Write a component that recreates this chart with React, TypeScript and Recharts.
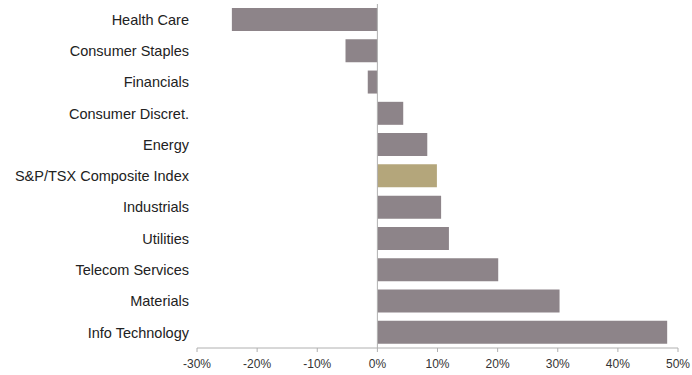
import { BarChart, Bar, XAxis, YAxis, Cell, ReferenceLine } from 'recharts';

const sectors = [
  'Health Care',
  'Consumer Staples',
  'Financials',
  'Consumer Discret.',
  'Energy',
  'S&P/TSX Composite Index',
  'Industrials',
  'Utilities',
  'Telecom Services',
  'Materials',
  'Info Technology',
];

const returns = [-24.2, -5.3, -1.6, 4.3, 8.3, 9.9, 10.6, 11.9, 20.1, 30.3, 48.2];

const xTicks = [-30, -20, -10, 0, 10, 20, 30, 40, 50];

const indexName = 'S&P/TSX Composite Index';

const data = sectors.map((name, i) => ({ name, value: returns[i] }));

const barColor = '#8d8489';
const indexColor = '#b4a67b';
const axisColor = '#b0b0b0';

export default function App() {
  return (
    <div style={{ position: 'absolute', left: 0, top: 0, background: '#fff' }}>
      <BarChart
        width={692}
        height={375}
        data={data}
        layout="vertical"
        margin={{ top: 4, right: 14, bottom: 0, left: 0 }}
      >
        <XAxis
          type="number"
          domain={[-30, 50]}
          ticks={xTicks}
          tickFormatter={(v) => `${v}%`}
          height={27}
          tickSize={4}
          tickMargin={7}
          stroke={axisColor}
          tick={{ fill: '#333', fontSize: 12, fontFamily: '"Liberation Sans", Arial, sans-serif' }}
        />
        <YAxis
          type="category"
          dataKey="name"
          width={197}
          axisLine={false}
          tickLine={false}
          interval={0}
          tick={{ fill: '#222', fontSize: 14.5, fontFamily: '"Liberation Sans", Arial, sans-serif' }}
        />
        <ReferenceLine x={0} stroke={axisColor} strokeWidth={1} />
        <Bar dataKey="value" barSize={23} isAnimationActive={false}>
          {data.map((d, i) => (
            <Cell key={`cell-${i}`} fill={d.name === indexName ? indexColor : barColor} />
          ))}
        </Bar>
      </BarChart>
    </div>
  );
}
